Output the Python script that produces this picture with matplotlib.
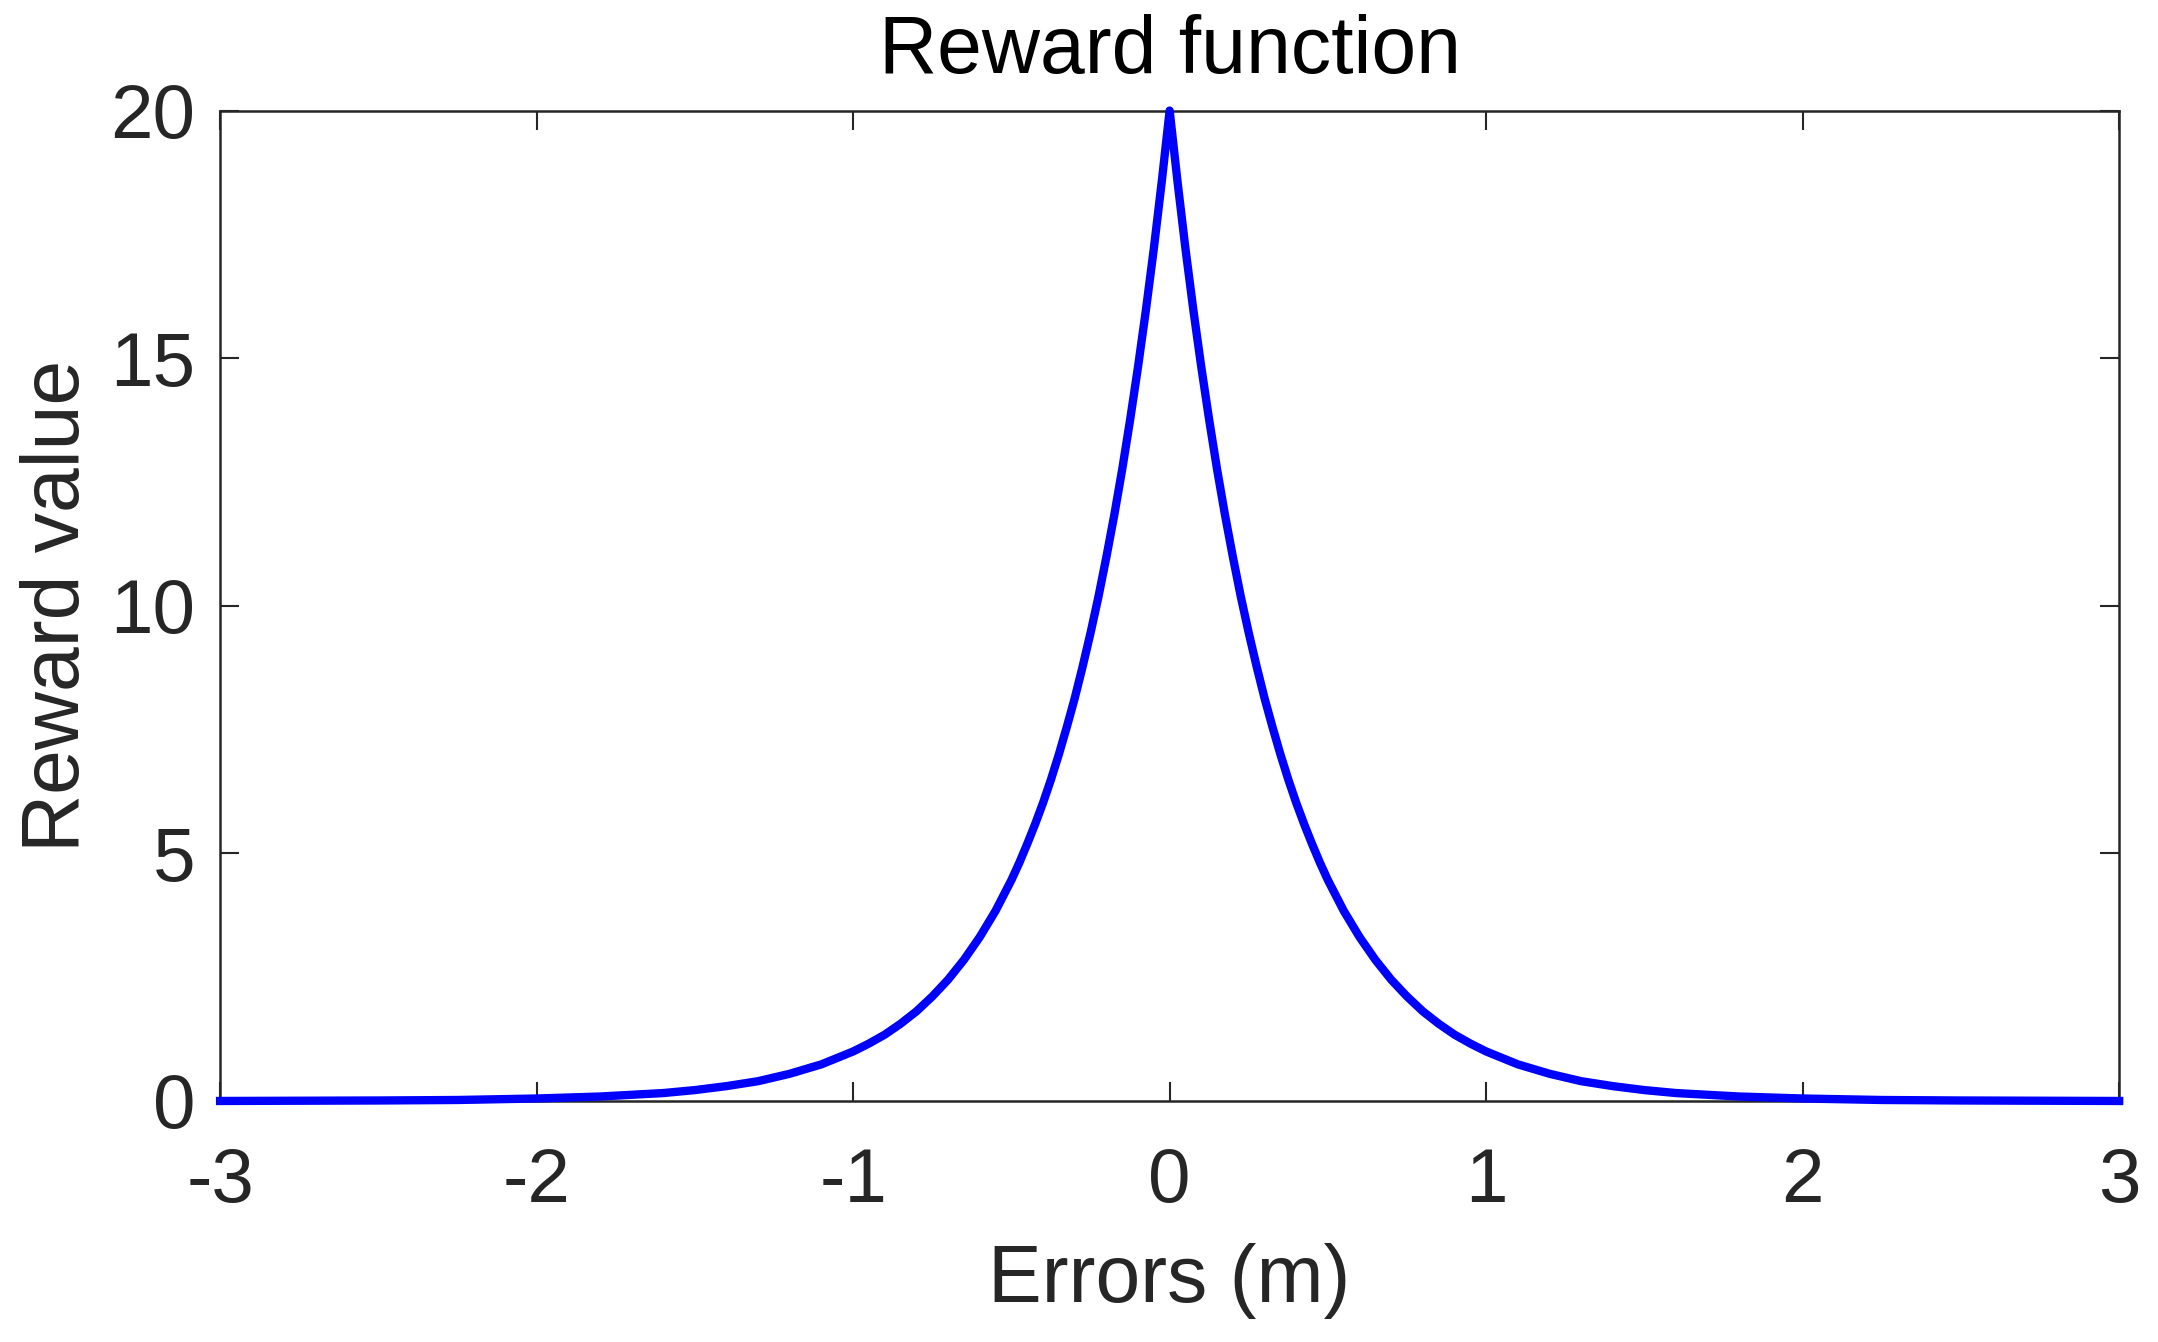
import matplotlib
matplotlib.use("Agg")
import matplotlib.pyplot as plt
import numpy as np

# Werte (rechte Hälfte, Kurve ist symmetrisch um 0)
errors_half = [0.0, 0.025, 0.05, 0.075, 0.1, 0.125, 0.15, 0.175, 0.2, 0.225, 0.25,
               0.275, 0.3, 0.325, 0.35, 0.375, 0.4, 0.425, 0.45, 0.475, 0.5,
               0.55, 0.6, 0.65, 0.7, 0.75, 0.8, 0.85, 0.9, 0.95, 1.0,
               1.1, 1.2, 1.3, 1.4, 1.5, 1.6, 1.8, 2.0, 2.25, 2.5, 2.75, 3.0]
reward_half = [20.0, 18.56, 17.21, 15.97, 14.82, 13.75, 12.75, 11.83, 10.98, 10.18, 9.45,
               8.77, 8.13, 7.55, 7.0, 6.49, 6.02, 5.59, 5.19, 4.81, 4.46,
               3.84, 3.31, 2.85, 2.45, 2.11, 1.81, 1.56, 1.34, 1.16, 1.0,
               0.74, 0.55, 0.40, 0.30, 0.22, 0.16, 0.09, 0.05, 0.02, 0.01, 0.005, 0.0]

x_ticks = [-3, -2, -1, 0, 1, 2, 3]
y_ticks = [0, 5, 10, 15, 20]

errors = np.concatenate([-np.array(errors_half[::-1]), np.array(errors_half[1:])])
reward = np.concatenate([np.array(reward_half[::-1]), np.array(reward_half[1:])])

plt.rcParams['font.family'] = ['Liberation Sans', 'DejaVu Sans']

fig = plt.figure(figsize=(21.58, 13.42), dpi=100)
ax = fig.add_axes([0.102, 0.1796, 0.880, 0.738])

ax.plot(errors, reward, color=(0, 0, 1), linewidth=6, clip_on=False, zorder=5,
        solid_joinstyle='round')

ax.set_xlim(-3, 3)
ax.set_ylim(0, 20)
ax.set_xticks(x_ticks)
ax.set_yticks(y_ticks)
ax.set_xticklabels([str(t) for t in x_ticks])
ax.set_yticklabels([str(t) for t in y_ticks])

grau = (0.15, 0.15, 0.15)
for s in ax.spines.values():
    s.set_linewidth(1.8)
    s.set_color(grau)
ax.tick_params(direction='in', length=14, width=1.5, colors=grau,
               labelsize=55, top=True, right=True)
ax.tick_params(axis='y', pad=18)
ax.tick_params(axis='x', pad=33)

ax.set_xlabel('Errors (m)', fontsize=58, color=grau, labelpad=18)
ax.set_ylabel('Reward value', fontsize=58, color=grau, labelpad=10)
ax.set_title('Reward function', fontsize=58, color='black', pad=27)

fig.savefig('out.png', dpi=100)
